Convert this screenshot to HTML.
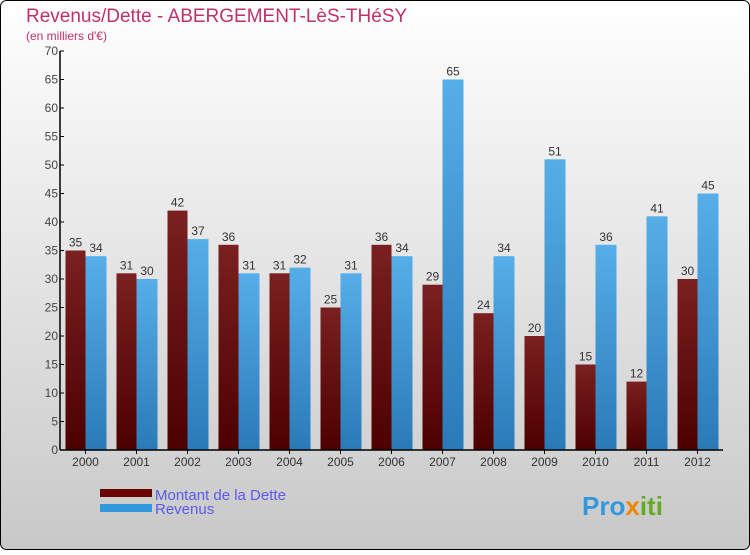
<!DOCTYPE html>
<html><head><meta charset="utf-8"><style>
body{margin:0;}
#c{width:750px;height:550px;position:relative;font-family:"Liberation Sans",sans-serif;}
</style></head><body>
<div id="c">
<svg width="750" height="550" id="svg">
<defs>
<linearGradient id="bg" x1="0" y1="0" x2="0" y2="1"><stop offset="0" stop-color="#ffffff"/><stop offset="1" stop-color="#c8c8c8"/></linearGradient>
<linearGradient id="gd" x1="0" y1="0" x2="0" y2="1"><stop offset="0" stop-color="#7a2020"/><stop offset="1" stop-color="#4d0000"/></linearGradient>
<linearGradient id="gr" x1="0" y1="0" x2="0" y2="1"><stop offset="0" stop-color="#56aee8"/><stop offset="1" stop-color="#2a7ab8"/></linearGradient>
</defs>
<rect x="0.5" y="0.5" width="749" height="549" rx="6" fill="url(#bg)" stroke="#000"/>
<text x="26" y="22" font-size="19" fill="#c0306a">Revenus/Dette - ABERGEMENT-LèS-THéSY</text>
<text x="26" y="40" font-size="12" fill="#c0306a">(en milliers d'€)</text>
<g id="plot"></g>
<rect x="100" y="489" width="52" height="8" fill="#6a0000"/>
<text x="155" y="500" font-size="15" fill="#5a5aee">Montant de la Dette</text>
<rect x="100" y="504" width="52" height="8" fill="#3399dd"/>
<text x="155" y="514" font-size="15" fill="#5a5aee">Revenus</text>
<text x="582" y="515" font-size="26" font-weight="bold" fill="#3399dd">Pro<tspan fill="#ee8800">x</tspan><tspan fill="#66aa22">iti</tspan></text>
</svg>
</div>
<script>
const years=["2000","2001","2002","2003","2004","2005","2006","2007","2008","2009","2010","2011","2012"];
const dette=[35,31,42,36,31,25,36,29,24,20,15,12,30];
const revenus=[34,30,37,31,32,31,34,65,34,51,36,41,45];
const yTicks=[0,5,10,15,20,25,30,35,40,45,50,55,60,65,70];
const NS="http://www.w3.org/2000/svg";
const g=document.getElementById('plot');
const x0=60,band=51,yBase=450,yTop=51,yMax=70;
const y=v=>yBase-(v/yMax)*(yBase-yTop);
const xc=i=>x0+band*(i+0.5);
function mk(t,a){const e=document.createElementNS(NS,t);for(const k in a)e.setAttribute(k,a[k]);g.appendChild(e);return e;}
years.forEach((yr,i)=>{
  const c=xc(i);
  let r=mk('rect',{x:c-20,y:y(dette[i]),width:20,height:yBase-y(dette[i]),fill:'url(#gd)'});
  
  
  r=mk('rect',{x:c,y:y(revenus[i]),width:21,height:yBase-y(revenus[i]),fill:'url(#gr)'});
  
  
  let t=mk('text',{x:c-10,y:y(dette[i])-4,'font-size':12,fill:'#333','text-anchor':'middle'});t.textContent=dette[i];
  
  
  t=mk('text',{x:c+10.5,y:y(revenus[i])-4,'font-size':12,fill:'#333','text-anchor':'middle'});t.textContent=revenus[i];
  
  
  t=mk('text',{x:c,y:466,'font-size':12,fill:'#333','text-anchor':'middle'});t.textContent=yr;
  
  
  const tk=mk('line',{x1:c,x2:c,y1:yBase,y2:yBase+4,stroke:'#000'});
  
  
});
yTicks.forEach(v=>{
  const l=mk('line',{x1:x0,x2:x0+4,y1:y(v),y2:y(v),stroke:'#000'});
  
  
  const t=mk('text',{x:x0-2,y:y(v)+4,'font-size':12,fill:'#444','text-anchor':'end'});t.textContent=v;
  
  
});
let ax=mk('line',{x1:x0,x2:x0,y1:yTop,y2:yBase,stroke:'#000','stroke-width':1.5});


ax=mk('line',{x1:x0,x2:x0+band*13,y1:yBase,y2:yBase,stroke:'#000','stroke-width':1.5});


</script>
</body></html>
